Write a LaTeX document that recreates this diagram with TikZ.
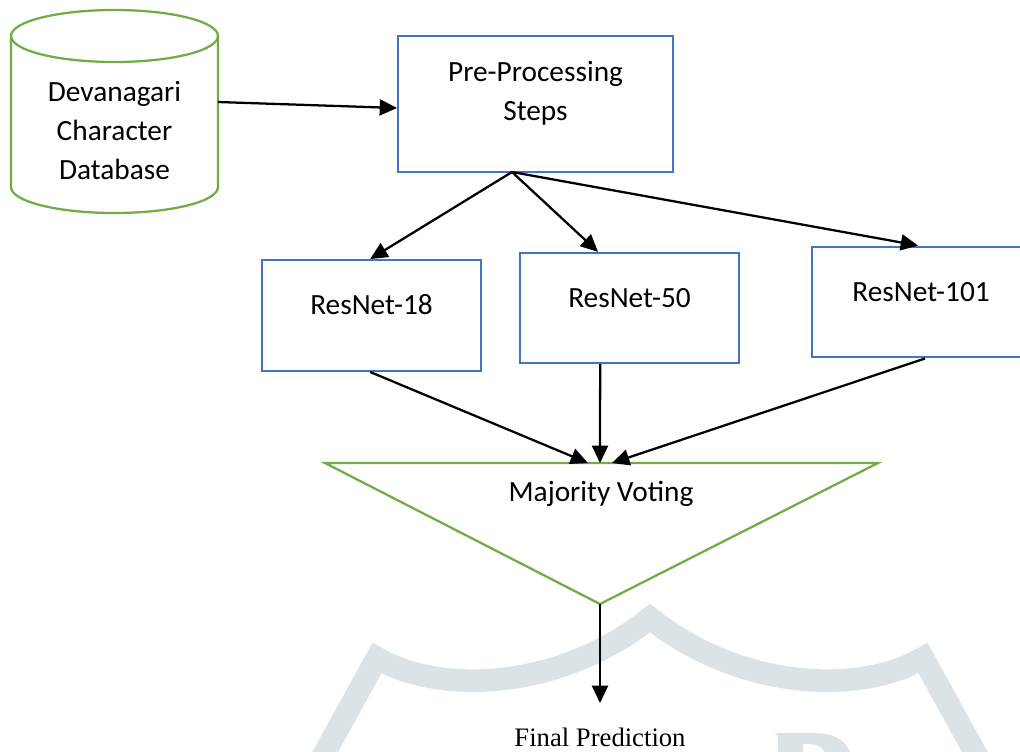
\documentclass[tikz,border=0pt]{standalone}
\usepackage{fontspec}
\setmainfont{Liberation Serif}
\newfontfamily\calibri{Carlito}
\usetikzlibrary{arrows.meta,calc}
\definecolor{boxblue}{HTML}{4472C4}
\definecolor{dbgreen}{HTML}{70AD47}
\definecolor{markgray}{HTML}{DCE3E6}
\begin{document}
\begin{tikzpicture}[x=0.75pt,y=-0.75pt,
  every node/.style={inner sep=0pt},
  stage/.style={draw=boxblue,line width=1.7pt,minimum width=164pt,minimum height=83pt},
  txt/.style={font=\calibri\fontsize{22}{29.25}\selectfont,align=center,text=black},
  flow/.style={draw=black,line width=1.7pt,-{Triangle[length=13pt,width=12pt]}},
  outline/.style={draw=dbgreen,line width=1.7pt},
  wmark/.style={draw=markgray,line width=17pt,line join=miter}]
\useasboundingbox (0,0) rectangle (1020,751);
\clip (0,0) rectangle (1020,751);

% faint shield in the background
\draw[wmark] (318,765) -- (377,658)
  .. controls (440,695) and (560,690) .. (650,618)
  .. controls (740,690) and (860,695) .. (923,658) -- (982,765);
\fill[markgray] (775,733) -- (815,733) .. controls (838,733) and (850,744) .. (852,760)
  -- (828,760) .. controls (826,750) and (820,744) .. (808,744) -- (803,744)
  -- (803,760) -- (778,760) -- (778,737) -- cycle;

% database cylinder
\draw[outline] (11,36) -- (11,187) arc[start angle=180,end angle=0,x radius=103.5,y radius=26] -- (218,36);
\draw[outline] (114.5,36) ellipse[x radius=103.5,y radius=26];
\node[txt] (db) at (114.5,131) {Devanagari\\Character\\Database};
\coordinate (dbout) at (218,102);

% pre-processing
\node[stage,minimum width=206pt,minimum height=102pt] (pre) at (535.5,104) {};
\node[txt] (pret) at (535.5,93) {Pre-Processing\\Steps};

% three networks
\node[stage] (r18) at (371.5,315.5) {};
\node[txt] (r18t) at (371.5,305) {ResNet-18};
\node[stage,minimum height=82.5pt] (r50) at (629.5,308) {};
\node[txt] (r50t) at (629.5,298) {ResNet-50};
\node[stage] (r101) at (921,302) {};
\node[txt] (r101t) at (921,292) {ResNet-101};

% voting triangle
\coordinate (tl) at (325,463);
\coordinate (tr) at (878,463);
\coordinate (apex) at (600,604);
\draw[outline,line join=miter] (tl) -- (tr) -- (apex) -- cycle;
\node[txt] (vote) at (601,494) {Majority Voting};
\coordinate (in1) at (588,463);
\coordinate (in2) at (600,463);
\coordinate (in3) at (612,463);

\node[font=\fontsize{20}{24}\selectfont] (final) at (600,737) {Final Prediction};
\coordinate (finalin) at (600,703);

% connectors
\coordinate (fan) at (512,172);
\draw[flow] (dbout) -- ([yshift=-3pt]pre.west);
\draw[flow] (fan) -- ([xshift=-1pt]r18.north);
\draw[flow] (fan) -- ([xshift=-23.6pt]r50.north);
\draw[flow] (fan) -- ([xshift=-2.2pt]r101.north);
\draw[flow] ([xshift=-1pt]r18.south) -- (in1);
\draw[flow] ([xshift=-22pt]r50.south) -- (in2);
\draw[flow] ([xshift=3pt]r101.south) -- (in3);
\draw[flow] (apex) -- (finalin);
\end{tikzpicture}
\end{document}
